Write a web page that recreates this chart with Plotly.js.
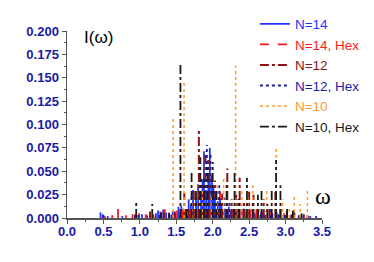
<!DOCTYPE html>
<html>
<head>
<meta charset="utf-8">
<script src="https://cdn.plot.ly/plotly-3.0.1.min.js"></script>
<style>html,body{margin:0;padding:0;background:#fff;}#chart{width:374px;height:262px;}</style>
</head>
<body>
<div id="chart"></div>
<script>
// Stick spectra I(ω): positions (ω) and intensities for each series
const n14_w = [0.46,0.49,0.56,0.76,0.93,1.03,1.10,1.18,1.22,1.25,1.29,1.32,1.36,1.41,1.45,1.49,1.53,1.57,1.60,1.63,1.67,1.70,1.73,1.77,1.80,1.84,1.86,1.88,1.91,1.94,1.96,1.99,2.01,2.03,2.07,2.10,2.12,2.17,2.22,2.25,2.28,2.35,2.42,2.46,2.50,2.58,2.66,2.74,2.82,2.91,3.00,3.10,3.22,3.34];
const n14_I = [0.006,0.004,0.002,0.002,0.003,0.004,0.003,0.004,0.005,0.008,0.006,0.009,0.006,0.004,0.007,0.005,0.012,0.013,0.010,0.009,0.020,0.014,0.030,0.022,0.036,0.026,0.040,0.071,0.030,0.045,0.075,0.046,0.035,0.025,0.018,0.022,0.014,0.010,0.012,0.008,0.009,0.008,0.010,0.006,0.007,0.005,0.006,0.004,0.005,0.004,0.003,0.003,0.002,0.002];

const n14hex_w = [0.52,0.62,0.70,0.81,0.90,0.99,1.08,1.19,1.28,1.34,1.40,1.46,1.51,1.55,1.59,1.64,1.69,1.74,1.79,1.83,1.86,1.92,1.97,2.01,2.05,2.10,2.14,2.20,2.26,2.31,2.36,2.40,2.44,2.52,2.60,2.68,2.78,2.88,2.98,3.08,3.20,3.32];
const n14hex_I = [0.002,0.003,0.017,0.003,0.004,0.005,0.004,0.003,0.007,0.011,0.006,0.004,0.008,0.006,0.009,0.013,0.011,0.016,0.012,0.010,0.019,0.015,0.022,0.028,0.024,0.029,0.018,0.012,0.015,0.022,0.011,0.008,0.016,0.009,0.011,0.007,0.009,0.006,0.005,0.004,0.003,0.002];

const n12_w = [0.94,1.14,1.33,1.48,1.61,1.67,1.74,1.81,1.85,1.90,1.94,1.99,2.03,2.08,2.13,2.20,2.26,2.32,2.37,2.43,2.50,2.56,2.62,2.70,2.78,2.86,2.93,3.02,3.12,3.25];
const n12_I = [0.004,0.007,0.006,0.007,0.027,0.012,0.030,0.095,0.038,0.071,0.062,0.045,0.040,0.022,0.026,0.053,0.020,0.025,0.043,0.018,0.028,0.025,0.013,0.020,0.012,0.028,0.010,0.008,0.006,0.004];

const n12hex_w = [0.50,0.98,1.27,1.44,1.56,1.65,1.71,1.77,1.82,1.85,1.89,1.92,1.97,2.02,2.06,2.09,2.16,2.23,2.29,2.35,2.41,2.48,2.55,2.63,2.72,2.80,2.90,2.99,3.08,3.18,3.30,3.42];
const n12hex_I = [0.003,0.004,0.005,0.006,0.008,0.010,0.025,0.020,0.030,0.045,0.040,0.078,0.070,0.032,0.028,0.035,0.022,0.016,0.013,0.020,0.012,0.014,0.010,0.009,0.007,0.009,0.006,0.005,0.004,0.003,0.003,0.002];

const n10_w = [1.456,1.607,1.72,1.86,1.98,2.06,2.15,2.315,2.40,2.48,2.55,2.62,2.74,2.872,2.96,3.05,3.12,3.20,3.30];
const n10_I = [0.107,0.147,0.020,0.030,0.025,0.035,0.045,0.163,0.030,0.022,0.035,0.020,0.032,0.076,0.020,0.012,0.025,0.015,0.031];

const n10hex_w = [0.95,1.17,1.29,1.40,1.557,1.64,1.71,1.77,1.83,1.88,1.93,2.00,2.05,2.11,2.19,2.30,2.36,2.47,2.55,2.62,2.67,2.75,2.81,2.87,2.93,3.02,3.10,3.22];
const n10hex_I = [0.019,0.015,0.006,0.005,0.164,0.012,0.048,0.030,0.065,0.042,0.055,0.060,0.030,0.020,0.035,0.051,0.020,0.043,0.018,0.025,0.032,0.015,0.032,0.062,0.035,0.012,0.008,0.005];

const seriesNames = ["N=14","N=14, Hex","N=12","N=12, Hex","N=10","N=10, Hex"];
const xTickVals = [0,0.5,1,1.5,2,2.5,3,3.5];
const yTickVals = [0,0.025,0.05,0.075,0.1,0.125,0.15,0.175,0.2];

// build vertical stick segments (library needs x/y arrays with gaps)
function sticks(w, I) {
  const x = [], y = [];
  for (let i = 0; i < w.length; i++) { x.push(w[i], w[i], null); y.push(0, I[i], null); }
  return {x, y};
}

const styles = [
  {color:"#1f35ff", dash:"solid", width:1.8},
  {color:"#ff1a1a", dash:"dash", width:1.8},
  {color:"#8b1414", dash:"dashdot", width:2},
  {color:"#1c1ca0", dash:"dot", width:1.8},
  {color:"#ff9a33", dash:"dot", width:1.5},
  {color:"#1a1a1a", dash:"dashdot", width:1.8}
];
const data_w = [n14_w, n14hex_w, n12_w, n12hex_w, n10_w, n10hex_w];
const data_I = [n14_I, n14hex_I, n12_I, n12hex_I, n10_I, n10hex_I];

const traces = data_w.map((w, k) => {
  const s = sticks(w, data_I[k]);
  return {
    type: "scatter", mode: "lines", x: s.x, y: s.y,
    name: '<span style="color:' + styles[k].color + '">' + seriesNames[k] + '</span>',
    line: {color: styles[k].color, dash: styles[k].dash, width: styles[k].width},
    connectgaps: false, hoverinfo: "skip"
  };
});

const tickFont = {family: "Liberation Sans, Arial, sans-serif", size: 13, color: "#1a1aa6", weight: "bold"};

const layout = {
  width: 374, height: 262,
  margin: {l: 67, r: 52, t: 31, b: 44, autoexpand: false},
  paper_bgcolor: "#fff", plot_bgcolor: "#fff",
  showlegend: true,
  legend: {
    x: 0.737, y: 1.12, xanchor: "left", yanchor: "top",
    bgcolor: "rgba(0,0,0,0)", borderwidth: 0,
    font: {family: "Liberation Sans, Arial, sans-serif", size: 13.5, color: "#000"},
    itemwidth: 30, tracegroupgap: 0, maxheight: 240
  },
  xaxis: {
    range: [0, 3.5], tickvals: xTickVals, tickformat: ".1f",
    ticks: "outside", ticklen: 4, tickwidth: 1, tickcolor: "#555",
    ticklabelstandoff: -3,
    showline: true, linecolor: "#555", linewidth: 1.5,
    showgrid: false, zeroline: false, tickfont: tickFont, automargin: false,
    minor: {dtick: 0.25, ticks: "outside", ticklen: 2, tickcolor: "#555", showgrid: false}
  },
  yaxis: {
    range: [0, 0.2], tickvals: yTickVals, tickformat: ".3f",
    ticks: "outside", ticklen: 4, tickwidth: 1, tickcolor: "#555",
    showline: true, linecolor: "#555", linewidth: 1.5,
    showgrid: false, zeroline: false, tickfont: tickFont, automargin: false,
    minor: {dtick: 0.0125, ticks: "outside", ticklen: 2, tickcolor: "#555", showgrid: false}
  },
  annotations: [
    {text: "I(ω)", xref: "paper", yref: "paper", x: 0.06, y: 0.965, xanchor: "left", yanchor: "middle",
     showarrow: false, font: {family: "Liberation Sans, Arial, sans-serif", size: 17, color: "#000"}},
    {text: "ω", xref: "paper", yref: "paper", x: 1.045, y: 0.12, xanchor: "right", yanchor: "middle",
     showarrow: false, font: {family: "Liberation Serif, Times New Roman, serif", size: 24, color: "#000"}}
  ]
};

Plotly.newPlot("chart", traces, layout, {staticPlot: true, displayModeBar: false});
</script>
</body>
</html>
